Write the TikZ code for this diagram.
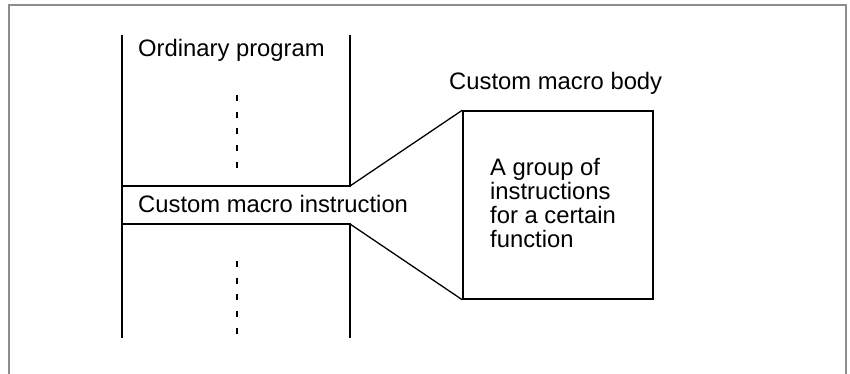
\documentclass[tikz,border=0pt]{standalone}
\usepackage{fontspec}
\setmainfont{Liberation Sans}
\usepackage{tikz}
\usetikzlibrary{positioning,calc}
\definecolor{clrFrame}{RGB}{140,140,140}
\definecolor{clrLine}{RGB}{0,0,0}
\tikzset{
  frameline/.style={draw=clrFrame,line width=2pt},
  progline/.style={draw=clrLine,line width=1.3pt},
  dotline/.style={draw=clrLine,line width=2pt,dash pattern=on 6pt off 10.7pt},
  caption/.style={anchor=base west,inner sep=0pt,font=\fontsize{23.8}{24}\selectfont},
  bodybox/.style={draw=clrLine,line width=1.5pt,minimum width=190pt,minimum height=188pt,inner sep=0pt},
  bodytext/.style={align=left,inner sep=0pt,font=\fontsize{23.8}{24.2}\selectfont}
}
\begin{document}
\begin{tikzpicture}[x=1pt,y=-1pt]
\useasboundingbox (0,0) rectangle (850,374);

% outer frame, open at the bottom
\draw[frameline] (9,380) -- (9,5) -- (846,5) -- (846,380);

% program column with the macro instruction band
\coordinate (colTL) at (122,35);
\coordinate (colBL) at (122,338);
\coordinate (colTR) at (350,35);
\coordinate (colBR) at (350,338);
\coordinate (bandTL) at (122,186);
\coordinate (bandBL) at (122,224);
\coordinate (bandTR) at (350,186);
\coordinate (bandBR) at (350,224);
\draw[progline] (colTL) -- (colBL);
\draw[progline] (colTR) -- (bandTR) -- (bandTL);
\draw[progline] (colBR) -- (bandBR) -- (bandBL);

% omitted program lines
\coordinate (dotsA1) at (237,95);
\coordinate (dotsA2) at (237,168);
\coordinate (dotsB1) at (237,261);
\coordinate (dotsB2) at (237,334);
\draw[dotline] (dotsA1) -- (dotsA2);
\draw[dotline] (dotsB1) -- (dotsB2);

\node[caption] (ordinary) at (138,57) {Ordinary program};
\node[caption] (instr) at (138,212) {Custom macro instruction};

% macro body
\node[bodybox] (body) at (558,205) {};
\node[bodytext] (bodytxt) at (553,203)
  {A group of\\instructions\\for a certain\\function};
\node[caption] (bodylabel) at (449,90) {Custom macro body};

\draw[progline] (bandTR) -- (body.north west);
\draw[progline] (bandBR) -- (body.south west);
\end{tikzpicture}
\end{document}
